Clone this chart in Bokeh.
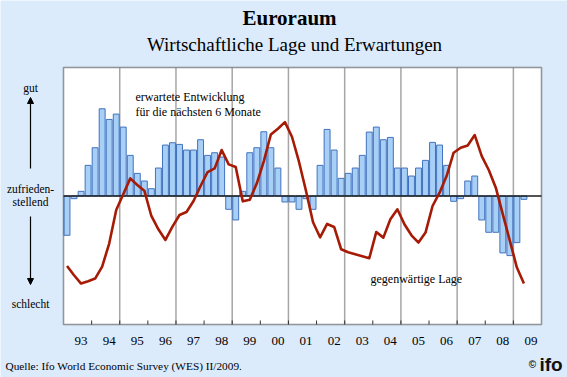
from bokeh.plotting import figure
from bokeh.models import Range1d, BoxAnnotation, Label, Arrow, NormalHead, ColumnDataSource
from bokeh.core.properties import value
from bokeh.embed import file_html
from bokeh.resources import INLINE

# ---------------- data ----------------
years = list(range(1993, 2010))
year_labels = ["93", "94", "95", "96", "97", "98", "99", "00", "01",
               "02", "03", "04", "05", "06", "07", "08", "09"]
quarter_nums = [1, 2, 3, 4]

# expected development for next 6 months (bars), 1993Q1 .. 2009Q2
erwartungen = [
    -118, -8, 14, 92,
    145, 262, 230, 246,
    207, 122, 68, 45,
    22, 84, 153, 160,
    155, 138, 138, 169,
    122, 130, 117, -40,
    -72, 14, 130, 145,
    193, 145, 84, -18,
    -18, -40, -8, -40,
    92, 200, 138, 53,
    68, 84, 122, 192,
    207, 169, 176, 84,
    84, 60, 84, 107,
    161, 153, 92, -16,
    -8, 45, 60, -72,
    -109, -109, -171, -179,
    -140, -10,
]

# current situation (line), 1993Q1 .. 2009Q2
lage = [
    -210, -238, -263, -256,
    -248, -212, -143, -42,
    5, 53, 33, 16,
    -60, -100, -132, -92,
    -57, -48, -15, 30,
    72, 83, 138, 95,
    87, -16, -11, 38,
    105, 185, 202, 222,
    178, 103, 15, -79,
    -124, -84, -93, -160,
    -169, -175, -181, -187,
    -108, -125, -70, -40,
    -85, -118, -140, -110,
    -30, 10, 60, 130,
    145, 152, 183, 120,
    78, 25, -55, -135,
    -215, -263,
]

quarter_labels = [f"{y}Q{q}" for y in years for q in quarter_nums][:len(lage)]
xq = [int(s[:4]) + (int(s[5]) - 0.5) / 4 for s in quarter_labels]

# ---------------- geometry ----------------
W, H = 567, 377
L, R, T, B = 63, 26, 67, 53          # plot-area margins in pixels
X0, X1 = 1993, 2010                  # plot-area x extent (years)
Y0, Y1 = -386, 386                   # plot-area y extent
kx = (X1 - X0) / (W - L - R)         # data units per pixel
ky = (Y1 - Y0) / (H - T - B)


def dx(px):
    return X0 + (px - L) * kx


def dy(py):
    return Y1 - (py - T) * ky


p = figure(width=W, height=H, output_backend="svg", toolbar_location=None,
           x_range=Range1d(dx(0), dx(W)), y_range=Range1d(dy(H), dy(0)),
           x_axis_location=None, y_axis_location=None, min_border=0)
p.border_fill_color = "#dcebfc"
p.background_fill_color = "#dcebfc"
p.outline_line_color = None
for g in p.grid:
    g.visible = False

# plot area
p.add_layout(BoxAnnotation(left=X0, right=X1, bottom=Y0, top=Y1, fill_color="white",
                           fill_alpha=1, line_color="#3a3a3a", line_width=1.5,
                           level="underlay"))

# vertical grid lines every two years
grid_years = years[2::2]
p.segment(x0=grid_years, x1=grid_years, y0=[Y0] * len(grid_years), y1=[Y1] * len(grid_years),
          line_color="#a6a6a6", line_width=1.5)

# small inward ticks at year boundaries
tick_years = years[1:]
p.segment(x0=tick_years, x1=tick_years, y0=[Y0] * len(tick_years),
          y1=[Y0 + 4 * ky] * len(tick_years), line_color="#333333", line_width=1)

src = ColumnDataSource(dict(x=xq, erw=erwartungen, lage=lage, q=quarter_labels))
p.vbar(x="x", top="erw", bottom=0, width=0.21, source=src,
       fill_color="#a8d0f7", line_color="#4272be", line_width=1)

# zero line
p.segment(x0=[X0], x1=[X1], y0=[0], y1=[0], line_color="#1a1a1a", line_width=1.3)

p.line(x="x", y="lage", source=src, line_color="#a61b05", line_width=2.6, line_join="round")

# plot-area frame on top
p.add_layout(BoxAnnotation(left=X0, right=X1, bottom=Y0, top=Y1, fill_alpha=0,
                           line_color="#3a3a3a", line_width=1.5))

serif = "Liberation Serif"

# x tick labels, centred in each year
label_x = [y + 0.625 for y in years]
p.text(x=label_x, y=[dy(340)] * len(label_x), text=year_labels, text_font=value(serif),
       text_font_size="13px", text_align="center", text_baseline="middle", text_color="black")


def lab(px, py, text, size="12px", align="left", font=serif, style="normal", color="black"):
    p.add_layout(Label(x=dx(px), y=dy(py), text=text, text_font=font, text_font_size=size,
                       text_align=align, text_baseline="middle", text_font_style=style,
                       text_color=color))


lab(289, 17, "Euroraum", size="21px", align="center", style="bold")
lab(294, 44, "Wirtschaftliche Lage und Erwartungen", size="19px", align="center")
lab(135, 96, "erwartete Entwicklung")
lab(135, 111, "für die nächsten 6 Monate")
lab(370, 278, "gegenwärtige Lage")
lab(30, 87, "gut", size="11.5px", align="center")
lab(30, 188, "zufrieden-", size="11.5px", align="center")
lab(30, 201, "stellend", size="11.5px", align="center")
lab(30, 303, "schlecht", size="11.5px", align="center")
lab(5, 365, "Quelle: Ifo World Economic Survey (WES) II/2009.", size="11.3px")
lab(532, 364, "©", size="10px", align="center", font="Liberation Sans", style="bold", color="#111111")
lab(539, 364, "ifo", size="19px", font="Liberation Sans", style="bold", color="#111111")

for ys, ye in [(168, 97), (216, 284)]:
    p.add_layout(Arrow(end=NormalHead(size=6, fill_color="black", line_color="black"),
                       x_start=dx(30), y_start=dy(ys), x_end=dx(30), y_end=dy(ye),
                       line_color="black", line_width=1.2))

open("out.html", "w").write(file_html(p, INLINE))
